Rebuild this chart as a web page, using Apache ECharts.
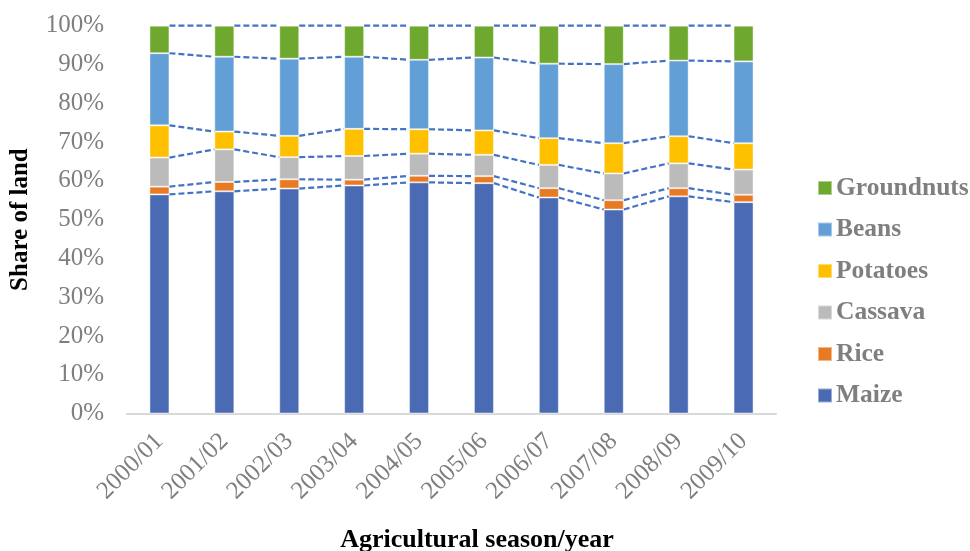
<!DOCTYPE html>
<html>
<head>
<meta charset="utf-8">
<script src="https://cdn.jsdelivr.net/npm/echarts@6/dist/echarts.min.js"></script>
<style>
  html, body { margin: 0; padding: 0; background: #ffffff; }
  #chart { width: 970px; height: 551px; }
</style>
</head>
<body>
<div id="chart"></div>
<script>
// Agricultural seasons
const seasons = ['2000/01', '2001/02', '2002/03', '2003/04', '2004/05',
                 '2005/06', '2006/07', '2007/08', '2008/09', '2009/10'];

// Share of cultivated land by crop (percent)
const maize      = [56.5, 57.3, 58.0, 58.8, 59.6, 59.4, 55.7, 52.6, 56.0, 54.5];
const rice       = [2.0, 2.4, 2.4, 1.5, 1.7, 1.8, 2.4, 2.4, 2.1, 1.9];
const cassava    = [7.5, 8.4, 5.7, 6.1, 5.7, 5.5, 6.0, 6.9, 6.4, 6.5];
const potatoes   = [8.3, 4.6, 5.5, 7.0, 6.3, 6.3, 6.9, 7.8, 7.0, 6.8];
const beans      = [18.6, 19.3, 19.9, 18.6, 17.9, 18.8, 19.2, 20.4, 19.5, 21.1];
const groundnuts = [7.1, 8.0, 8.5, 8.0, 8.8, 8.2, 9.8, 9.9, 9.0, 9.2];

const crops = [
  { name: 'Maize',      values: maize,      color: '#4A6BB4' },
  { name: 'Rice',       values: rice,       color: '#E97A24' },
  { name: 'Cassava',    values: cassava,    color: '#BBBBBB' },
  { name: 'Potatoes',   values: potatoes,   color: '#FFC000' },
  { name: 'Beans',      values: beans,      color: '#629FD7' },
  { name: 'Groundnuts', values: groundnuts, color: '#6FA82F' }
];

const BAR_WIDTH = 20;
const FONT = '"Liberation Serif", "Times New Roman", serif';

// Running totals: the top edge of each crop segment in every season
const levels = [];
let running = seasons.map(() => 0);
crops.forEach(c => {
  running = running.map((v, i) => v + c.values[i]);
  levels.push(running.slice());
});

const barSeries = crops.map(c => ({
  name: c.name,
  type: 'bar',
  stack: 'share',
  barWidth: BAR_WIDTH,
  data: c.values,
  itemStyle: { color: c.color, borderColor: 'rgba(255,255,255,0.45)', borderWidth: 1 },
  emphasis: { disabled: true },
  z: 3
}));

// Dashed connector lines between the stacked segment tops of neighbouring bars
const connectorSeries = levels.map((lv, k) => ({
  name: 'connector' + k,
  type: 'custom',
  silent: true,
  z: 2,
  data: lv.slice(0, -1).map((v, i) => [i, v, lv[i + 1]]),
  renderItem: function (params, api) {
    const i = api.value(0);
    const a = api.coord([i, api.value(1)]);
    const b = api.coord([i + 1, api.value(2)]);
    return {
      type: 'line',
      shape: { x1: a[0] + BAR_WIDTH / 2, y1: a[1], x2: b[0] - BAR_WIDTH / 2, y2: b[1] },
      style: { stroke: '#4472C4', lineWidth: 2.2, lineDash: [6, 3] }
    };
  }
}));

const chart = echarts.init(document.getElementById('chart'), null, { renderer: 'canvas' });

chart.setOption({
  animation: false,
  backgroundColor: '#ffffff',
  textStyle: { fontFamily: FONT },
  grid: { left: 126, right: 194, top: 25.7, bottom: 137.5 },
  title: {
    text: 'Agricultural season/year',
    left: 472,
    textAlign: 'center',
    top: 522,
    textStyle: { fontFamily: FONT, fontSize: 26, fontWeight: 'bold', color: '#000000' }
  },
  legend: {
    orient: 'vertical',
    left: 812,
    top: 170,
    itemWidth: 14,
    itemHeight: 14,
    itemGap: 15.5,
    icon: 'rect',
    data: ['Groundnuts', 'Beans', 'Potatoes', 'Cassava', 'Rice', 'Maize'],
    textStyle: { fontFamily: FONT, fontSize: 25.5, fontWeight: 'bold', color: '#7F7F7F', lineHeight: 26, padding: [0, 0, 0, -1] }
  },
  xAxis: {
    type: 'category',
    data: seasons,
    axisLine: { lineStyle: { color: '#D9D9D9', width: 2 } },
    axisTick: { show: false },
    axisLabel: {
      rotate: 45,
      margin: 24,
      fontFamily: FONT,
      fontSize: 25,
      color: '#7F7F7F',
      interval: 0
    }
  },
  yAxis: {
    type: 'value',
    min: 0,
    max: 100,
    interval: 10,
    name: 'Share of land',
    nameLocation: 'middle',
    nameGap: 94,
    nameTextStyle: { fontFamily: FONT, fontSize: 25, fontWeight: 'bold', color: '#000000' },
    axisLine: { show: false },
    axisTick: { show: false },
    splitLine: { show: false },
    axisLabel: {
      formatter: '{value}%',
      margin: 23,
      fontFamily: FONT,
      fontSize: 25,
      color: '#7F7F7F'
    }
  },
  series: barSeries.concat(connectorSeries)
});
</script>
</body>
</html>
